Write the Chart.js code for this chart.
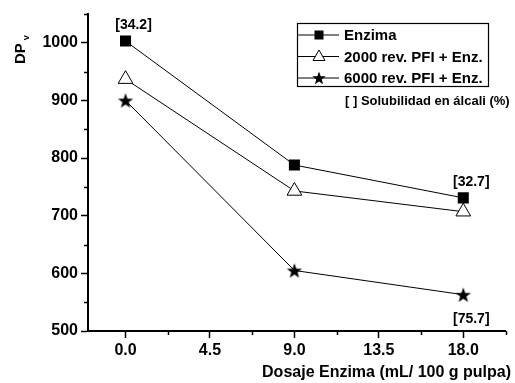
<!DOCTYPE html>
<html>
<head>
<meta charset="utf-8">
<script src="https://cdn.jsdelivr.net/npm/chart.js@4/dist/chart.umd.min.js"></script>
<style>
  html, body { margin: 0; padding: 0; background: #fff; }
  #wrap { width: 515px; height: 383px; }
</style>
</head>
<body>
<div id="wrap"><canvas id="dp"></canvas></div>
<script>
// data
const dosage = [0, 9, 18];
const enzima = [1003, 788, 731];
const pfi2000 = [937, 743, 707];
const pfi6000 = [900, 605, 563];
const seriesNames = ['Enzima', '2000 rev. PFI + Enz.', '6000 rev. PFI + Enz.'];

const xTicks = [0, 4.5, 9, 13.5, 18];
const xMinor = [2.25, 6.75, 11.25, 15.75, 20.25];
const yTicks = [500, 600, 700, 800, 900, 1000];
const yMinor = [550, 650, 750, 850, 950, 1050];

// solubility notes: [text, series, point index, above/below]
const noteText = ['[34.2]', '[32.7]', '[75.7]'];
const noteSeries = [0, 0, 2];
const notePoint = [0, 2, 2];
const noteBelow = [false, false, true];

const FONT = "'Liberation Sans', Arial, sans-serif";

function makeStar(outer, inner) {
    const c = document.createElement('canvas');
    const s = Math.ceil(outer * 2 + 2);
    c.width = s; c.height = s;
    const g = c.getContext('2d');
    starPath(g, s / 2, s / 2 + 0.8, outer, inner);
    g.fillStyle = '#000';
    g.fill();
    return c;
}
function starPath(g, cx, cy, outer, inner) {
    g.beginPath();
    for (let i = 0; i < 10; i++) {
        const r = i % 2 === 0 ? outer : inner;
        const a = -Math.PI / 2 + i * Math.PI / 5;
        const px = cx + r * Math.cos(a), py = cy + r * Math.sin(a);
        if (i === 0) g.moveTo(px, py); else g.lineTo(px, py);
    }
    g.closePath();
}

const starImg = makeStar(8, 3.3);

function pts(ys) {
    return dosage.map((x, i) => ({ x: x, y: ys[i] }));
}

function drawMarker(ctx, kind, x, y) {
    ctx.save();
    ctx.fillStyle = '#000';
    ctx.strokeStyle = '#000';
    ctx.lineWidth = 1;
    if (kind === 0) {
        ctx.fillRect(x - 4.5, y - 4.5, 9, 9);
    } else if (kind === 1) {
        ctx.beginPath();
        ctx.moveTo(x, y - 6.5);
        ctx.lineTo(x + 6, y + 4);
        ctx.lineTo(x - 6, y + 4);
        ctx.closePath();
        ctx.fillStyle = '#fff';
        ctx.fill();
        ctx.stroke();
    } else {
        starPath(ctx, x, y + 0.5, 7, 2.9);
        ctx.fill();
    }
    ctx.restore();
}

const extras = {
    id: 'extras',
    afterDraw(chart) {
        const ctx = chart.ctx;
        const xs = chart.scales.x, ys = chart.scales.y;
        const area = chart.chartArea;
        ctx.save();
        ctx.strokeStyle = '#000';
        ctx.lineWidth = 1.5;
        // minor ticks
        ctx.beginPath();
        xMinor.forEach(v => {
            const px = Math.round(xs.getPixelForValue(v)) + 0.5;
            ctx.moveTo(px, area.bottom);
            ctx.lineTo(px, area.bottom + 4);
        });
        yMinor.forEach(v => {
            const py = Math.round(ys.getPixelForValue(v)) + 0.5;
            ctx.moveTo(area.left, py);
            ctx.lineTo(area.left - 4, py);
        });
        ctx.stroke();

        ctx.fillStyle = '#000';
        // y title DP with subscript v
        ctx.save();
        ctx.translate(25, 64);
        ctx.rotate(-Math.PI / 2);
        ctx.font = 'bold 15px ' + FONT;
        ctx.textAlign = 'left';
        ctx.textBaseline = 'alphabetic';
        ctx.fillText('DP', 0, 0);
        const w = ctx.measureText('DP').width;
        ctx.font = 'bold 9px ' + FONT;
        ctx.fillText('v', w + 3, 4);
        ctx.restore();

        // x title
        ctx.font = 'bold 16px ' + FONT;
        ctx.textAlign = 'right';
        ctx.textBaseline = 'middle';
        ctx.fillText('Dosaje Enzima (mL/ 100 g pulpa)', 511, 373);

        // notes on points
        const series = [enzima, pfi2000, pfi6000];
        ctx.font = 'bold 14px ' + FONT;
        ctx.textAlign = 'center';
        noteText.forEach((t, i) => {
            const v = series[noteSeries[i]][notePoint[i]];
            const px = xs.getPixelForValue(dosage[notePoint[i]]) + 8;
            const py = ys.getPixelForValue(v) + (noteBelow[i] ? 24 : -16);
            ctx.fillText(t, px, py);
        });

        // legend box
        const lx = 297, ly = 23, lw = 191, lh = 63;
        ctx.lineWidth = 1.2;
        ctx.strokeRect(lx + 0.5, ly + 0.5, lw, lh);
        ctx.lineWidth = 1;
        seriesNames.forEach((name, i) => {
            const yy = 35 + i * 21.5;
            ctx.beginPath();
            ctx.moveTo(lx, yy);
            ctx.lineTo(lx + 42, yy);
            ctx.stroke();
            drawMarker(ctx, i, lx + 22, yy);
            ctx.font = 'bold 15px ' + FONT;
            ctx.textAlign = 'left';
            ctx.textBaseline = 'middle';
            ctx.fillText(name, lx + 47, yy + 1);
        });

        ctx.font = 'bold 13px ' + FONT;
        ctx.textAlign = 'left';
        ctx.fillText('[ ] Solubilidad en \u00e1lcali (%)', 345, 101);
        ctx.restore();
    }
};

const ctx = document.getElementById('dp').getContext('2d');
const myChart = new Chart(ctx, {
    type: 'line',
    data: {
        datasets: [{
            label: seriesNames[0],
            data: pts(enzima),
            borderColor: '#000',
            borderWidth: 1,
            pointStyle: 'rect',
            pointRadius: 7.8,
            pointBackgroundColor: '#000',
            pointBorderColor: '#000',
            pointBorderWidth: 0
        }, {
            label: seriesNames[1],
            data: pts(pfi2000),
            borderColor: '#000',
            borderWidth: 1,
            pointStyle: 'triangle',
            pointRadius: 8.5,
            pointBackgroundColor: '#fff',
            pointBorderColor: '#000',
            pointBorderWidth: 1
        }, {
            label: seriesNames[2],
            data: pts(pfi6000),
            borderColor: '#000',
            borderWidth: 1,
            pointStyle: starImg,
            pointRadius: 8
        }]
    },
    options: {
        responsive: true,
        maintainAspectRatio: false,
        animation: false,
        layout: {
            padding: { top: 14, right: 7, left: 0, bottom: 0 }
        },
        plugins: {
            legend: { display: false },
            tooltip: { enabled: false }
        },
        scales: {
            x: {
                type: 'linear',
                min: -2,
                max: 20.25,
                afterBuildTicks: (scale) => {
                    scale.ticks = xTicks.map(v => ({ value: v }));
                },
                afterFit: (scale) => { scale.height = 52; },
                border: { display: true, color: '#000', width: 2 },
                grid: { display: true, drawOnChartArea: false, color: '#000', tickLength: 7, tickWidth: 1.5 },
                ticks: {
                    color: '#000',
                    padding: 3,
                    font: { family: FONT, size: 16, weight: 'bold' },
                    callback: (v) => v.toFixed(1)
                }
            },
            y: {
                min: 500,
                max: 1050,
                afterBuildTicks: (scale) => {
                    scale.ticks = yTicks.map(v => ({ value: v }));
                },
                afterFit: (scale) => { scale.width = 88; },
                border: { display: true, color: '#000', width: 2 },
                grid: { display: true, drawOnChartArea: false, color: '#000', tickLength: 7, tickWidth: 1.5 },
                ticks: {
                    color: '#000',
                    padding: 3,
                    font: { family: FONT, size: 16, weight: 'bold' },
                    callback: (v) => String(v)
                }
            }
        }
    },
    plugins: [extras]
});
</script>
</body>
</html>
